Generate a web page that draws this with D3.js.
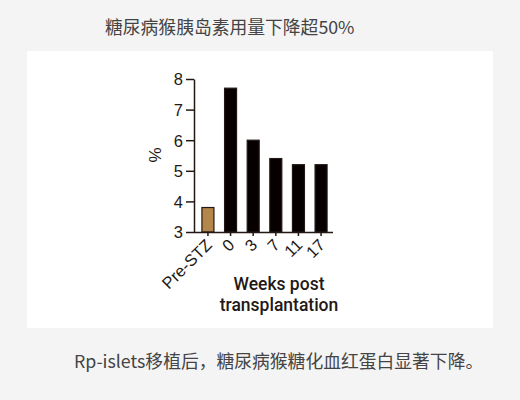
<!DOCTYPE html>
<html>
<head>
<meta charset="utf-8">
<script src="https://cdn.jsdelivr.net/npm/d3@7"></script>
<style>
  html, body { margin: 0; padding: 0; background: #f4f4f4; }
  svg { display: block; }
</style>
</head>
<body>
<div id="chart"></div>
<script>
// chart data
var categories = ["Pre-STZ", "0", "3", "7", "11", "17"];
var hba1cValues = [3.8, 7.7, 6.0, 5.4, 5.2, 5.2];
var yTicks = [3, 4, 5, 6, 7, 8];

var titleText = "糖尿病猴胰岛素用量下降超50%";
var captionText = "Rp-islets移植后，糖尿病猴糖化血红蛋白显著下降。";

(function () {
  "use strict";

  var W = 520, H = 400,
      sInk = "#231815",
      sCjk = "'Noto Sans CJK SC', 'Noto Sans', sans-serif";

  var svg = d3.select("#chart").append("svg")
      .attr("width", W)
      .attr("height", H);

  // page background and white panel
  svg.append("rect").attr("width", W).attr("height", H).attr("fill", "#f4f4f4");
  svg.append("rect")
      .attr("x", 27).attr("y", 51)
      .attr("width", 466).attr("height", 277)
      .attr("fill", "#ffffff");

  // title and caption
  svg.append("text")
      .attr("x", 105).attr("y", 34)
      .attr("font-family", sCjk)
      .attr("font-size", 17.8)
      .attr("fill", "#444")
      .text(titleText);

  svg.append("text")
      .attr("x", 74).attr("y", 368)
      .attr("font-family", sCjk)
      .attr("font-size", 17.8)
      .attr("fill", "#444")
      .text(captionText);

  // scales
  var x = d3.scaleBand()
      .domain(categories)
      .range([196.5, 332.5])
      .paddingInner(0.47)
      .paddingOuter(0.24);

  var y = d3.scaleLinear()
      .domain([3, 8])
      .range([232, 79]);

  var g = svg.append("g");

  // bars
  g.selectAll("rect.bar")
    .data(hba1cValues)
    .enter()
    .append("rect")
      .attr("class", "bar")
      .attr("x", function (d, i) { return x(categories[i]); })
      .attr("y", function (d) { return y(d); })
      .attr("width", x.bandwidth())
      .attr("height", function (d) { return y(3) - y(d); })
      .attr("fill", function (d, i) { return i === 0 ? "#b5864b" : "#060001"; })
      .attr("stroke", sInk)
      .attr("stroke-width", 1.2);

  // y axis
  var yAxis = g.append("g")
      .attr("transform", "translate(194,0)")
      .call(d3.axisLeft(y).tickValues(yTicks).tickFormat(d3.format("d"))
        .tickSize(8).tickSizeOuter(0));

  // x axis
  var xAxis = g.append("g")
      .attr("transform", "translate(0,232)")
      .call(d3.axisBottom(x).tickSize(4).tickSizeOuter(0));
  xAxis.select(".domain").attr("d", "M194,0.5H333");

  [yAxis, xAxis].forEach(function (ax) {
    ax.selectAll(".domain, line")
        .attr("stroke", sInk)
        .attr("stroke-width", 1.5);
    ax.selectAll("text")
        .attr("fill", sInk)
        .attr("font-family", "'Liberation Sans', Arial, sans-serif")
        .attr("font-size", 16.5);
  });

  yAxis.selectAll("text").attr("x", -11).attr("dy", "0.36em");

  xAxis.selectAll("text")
      .attr("text-anchor", "end")
      .attr("x", 0).attr("y", 0).attr("dy", 0)
      .attr("transform", "translate(5,14) rotate(-45)");

  // axis titles
  g.append("text")
      .attr("transform", "translate(161,155) rotate(-90)")
      .attr("text-anchor", "middle")
      .attr("font-family", "'Liberation Sans', Arial, sans-serif")
      .attr("font-size", 17)
      .attr("fill", sInk)
      .text("%");

  // x title, two tight lines
  g.append("text")
      .attr("x", 279).attr("y", 290)
      .attr("text-anchor", "middle")
      .attr("font-family", "Roboto, sans-serif")
      .attr("font-weight", 500)
      .attr("font-size", 17.5)
      .attr("fill", sInk)
      .text("Weeks post");
  g.append("text")
      .attr("x", 279).attr("y", 310.5)
      .attr("text-anchor", "middle")
      .attr("font-family", "Roboto, sans-serif")
      .attr("font-weight", 500)
      .attr("font-size", 17.5)
      .attr("fill", sInk)
      .text("transplantation");
}());
</script>
</body>
</html>
